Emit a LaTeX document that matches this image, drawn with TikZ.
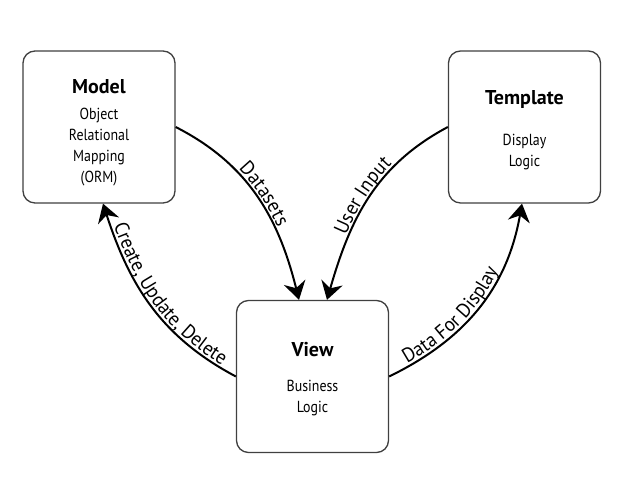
\documentclass[tikz,border=0pt]{standalone}
\usepackage{fontspec}
\setmainfont{PT Sans}[FakeStretch=0.87]
\newfontfamily\lblfam{PT Sans}[FakeStretch=0.95]
\newfontfamily\ttlfam{PT Sans}
\usetikzlibrary{arrows.meta,decorations.text}
\newcommand\lblfont{\lblfam\fontsize{20}{22}\selectfont}
\newcommand\ttlfont{\ttlfam\bfseries\fontsize{20}{21}\selectfont}
\begin{document}
\begin{tikzpicture}[x=1pt,y=1pt,
  box/.style={draw=black!75, line width=1.3pt, rounded corners=12pt,
    minimum width=152pt, minimum height=152pt, inner sep=0pt,
    align=center, font=\fontsize{16}{21}\selectfont},
  flow/.style={line width=2pt, -{Stealth[length=18pt,width=22pt,inset=6pt]}},
  lbl/.style={decorate, decoration={text along path, text={|\lblfont|#1},
    text align=center, raise=3pt}}
]
\path[fill=white,use as bounding box] (0,0) rectangle (629,494);

\node[box] (model) at (99,367)
  {\rule{0pt}{25pt}{\ttlfont Model}\\[5pt]Object\\Relational\\Mapping\\(ORM)};
\node[box] (template) at (524.5,367)
  {\rule{0pt}{21pt}{\ttlfont Template}\\[20pt]Display\\Logic};
\node[box] (view) at (312.5,117.5)
  {\rule{0pt}{19pt}{\ttlfont View}\\[14pt]Business\\Logic};

\draw[flow] (model.east) to[out=-27,in=104] ([xshift=-13.5pt]view.north);
\draw[flow] (template.west) to[out=208,in=74] ([xshift=14.5pt]view.north);
\draw[flow] (view.west) to[out=152,in=-72] ([xshift=4pt]model.south);
\draw[flow] (view.east) to[out=26,in=-100] ([xshift=-2.5pt]template.south);

\path[lbl=Datasets] (model.east) to[out=-27,in=104] ([xshift=-13.5pt]view.north);
\path[lbl={User Input}] ([xshift=14.5pt]view.north) to[out=74,in=208] (template.west);
\path[lbl={Create, Update, Delete}, decoration={text align={left, left indent=24pt}}]
  ([xshift=4pt]model.south) to[out=-72,in=152] (view.west);
\path[lbl={Data For Display}, decoration={text align={left, left indent=22pt}}]
  (view.east) to[out=26,in=-100] ([xshift=-2.5pt]template.south);
\end{tikzpicture}
\end{document}
